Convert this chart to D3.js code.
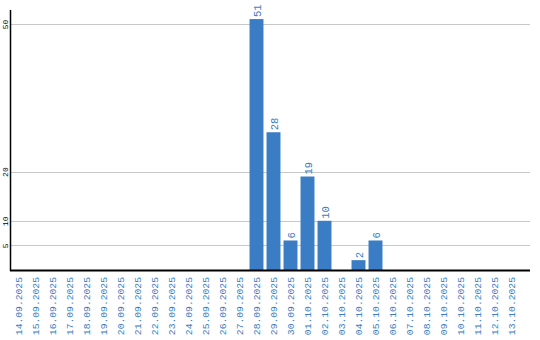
<!DOCTYPE html>
<html><head><meta charset="utf-8">
<script src="https://cdn.jsdelivr.net/npm/d3@7"></script>
<style>body{margin:0;background:#fff}</style>
</head><body>
<svg id="c" width="540" height="340"></svg>
<script>
const categories = ["14.09.2025","15.09.2025","16.09.2025","17.09.2025","18.09.2025","19.09.2025","20.09.2025","21.09.2025","22.09.2025","23.09.2025","24.09.2025","25.09.2025","26.09.2025","27.09.2025","28.09.2025","29.09.2025","30.09.2025","01.10.2025","02.10.2025","03.10.2025","04.10.2025","05.10.2025","06.10.2025","07.10.2025","08.10.2025","09.10.2025","10.10.2025","11.10.2025","12.10.2025","13.10.2025"];
const values = [0,0,0,0,0,0,0,0,0,0,0,0,0,0,51,28,6,19,10,0,2,6,0,0,0,0,0,0,0,0];
const yTicks = [5,10,20,50];

const svg = d3.select("#c");
const color = "#3b7dc4";
const font = "Liberation Mono, monospace";
const x = d3.scaleBand().domain(categories).range([10,520]).paddingInner(0.18).paddingOuter(0.09);
const y = d3.scaleLinear().domain([0,50]).range([270,24]);

// gridlines
svg.append("g").selectAll("line").data(yTicks).join("line")
  .attr("x1",11).attr("x2",530).attr("y1",d=>Math.round(y(d))+0.5).attr("y2",d=>Math.round(y(d))+0.5)
  .attr("stroke","#c8c8c8").attr("stroke-width",1);

// bars
svg.append("g").selectAll("rect").data(categories).join("rect")
  .attr("x",d=>x(d)).attr("width",x.bandwidth())
  .attr("y",(d,i)=>y(values[i])).attr("height",(d,i)=>y(0)-y(values[i]))
  .attr("fill",color);

// value labels
svg.append("g").selectAll("text").data(categories.filter((d,i)=>values[i]>0)).join("text")
  .attr("transform",d=>{const v=values[categories.indexOf(d)];return `translate(${x(d)+x.bandwidth()/2+4},${y(v)-2}) rotate(-90)`;})
  .attr("font-family",font).attr("font-size",10.5).attr("fill",color)
  .text(d=>values[categories.indexOf(d)]);

// y axis
const ya = d3.axisLeft(y).tickValues(yTicks).tickSize(0).tickPadding(0);
const gy = svg.append("g").attr("transform","translate(10.5,0)").call(ya);
gy.select(".domain").remove();
gy.selectAll("text").attr("x",null).attr("dy",null)
  .attr("transform","translate(-2.5,0) rotate(-90)")
  .attr("text-anchor","middle").attr("font-family",font).attr("font-size",8).attr("fill","#000");
svg.append("line").attr("x1",10.5).attr("x2",10.5).attr("y1",10).attr("y2",271).attr("stroke","#000").attr("stroke-width",1.5);

// x axis
const xa = d3.axisBottom(x).tickSize(0).tickPadding(0);
const gx = svg.append("g").attr("transform","translate(0,270)").call(xa);
gx.select(".domain").remove();
gx.selectAll("text").attr("y",null).attr("dy",null)
  .attr("transform","translate(3,7) rotate(-90)")
  .attr("text-anchor","end").attr("font-family",font).attr("font-size",9.7).attr("fill",color);
svg.append("line").attr("x1",10).attr("x2",530).attr("y1",270.5).attr("y2",270.5).attr("stroke","#000").attr("stroke-width",2);
</script>
</body></html>
